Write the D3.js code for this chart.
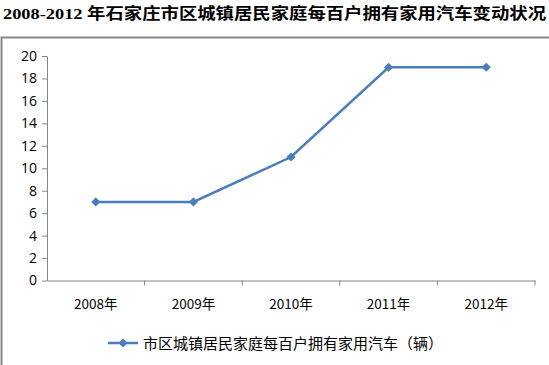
<!DOCTYPE html>
<html>
<head>
<meta charset="utf-8">
<script src="https://cdn.jsdelivr.net/npm/d3@7"></script>
<style>
  body { margin: 0; background: #fff; }
  svg { display: block; }
</style>
</head>
<body>
<div id="chart"></div>
<script>
const years = ['2008年', '2009年', '2010年', '2011年', '2012年'];
const cars = [7, 7, 11, 19, 19];
const yTicks = [0, 2, 4, 6, 8, 10, 12, 14, 16, 18, 20];
const seriesName = '市区城镇居民家庭每百户拥有家用汽车（辆）';
const titleText = '2008-2012 年石家庄市区城镇居民家庭每百户拥有家用汽车变动状况';

const width = 549, height = 365;
const lineColor = '#4a7ebb';
const cjk = '"Noto Sans CJK SC", "DejaVu Sans", sans-serif';

const svg = d3.select('#chart').append('svg')
  .attr('width', width)
  .attr('height', height);

// title
svg.append('text')
  .attr('x', 3)
  .attr('y', 19)
  .attr('font-family', '"Liberation Serif", "Noto Sans CJK SC", serif')
  .attr('font-weight', 'bold')
  .attr('font-size', 15.5)
  .attr('fill', '#000')
  .attr('textLength', 543)
  .attr('lengthAdjust', 'spacingAndGlyphs')
  .text(titleText);

// chart frame (left + top edges)
svg.append('path')
  .attr('d', `M1.5,${height}V37.5H${width}`)
  .attr('fill', 'none')
  .attr('stroke', '#888')
  .attr('stroke-width', 2);

const x = d3.scaleBand().domain(years).range([47, 535]);
const y = d3.scaleLinear().domain([0, 20]).range([280.5, 56]);

// y axis
const yAxis = svg.append('g')
  .attr('transform', 'translate(47,0)')
  .call(d3.axisLeft(y).tickValues(yTicks).tickSize(5).tickPadding(5).tickSizeOuter(0));
yAxis.select('.domain').attr('stroke', '#868686');
yAxis.selectAll('.tick line').attr('stroke', '#868686');
yAxis.selectAll('text')
  .attr('font-family', '"Open Sans", "DejaVu Sans", sans-serif')
  .attr('font-size', 14)
  .attr('fill', '#000');

// x axis
const xAxis = svg.append('g')
  .attr('transform', `translate(0,${y(0)})`)
  .call(d3.axisBottom(x).tickSize(0).tickPadding(19));
xAxis.select('.domain').attr('stroke', '#868686');
xAxis.selectAll('text')
  .attr('font-family', cjk)
  .attr('font-size', 13.5)
  .attr('fill', '#000');
// category boundary ticks
svg.append('g').selectAll('line')
  .data(years)
  .enter().append('line')
  .attr('x1', d => x(d) + x.bandwidth())
  .attr('x2', d => x(d) + x.bandwidth())
  .attr('y1', y(0))
  .attr('y2', y(0) + 5)
  .attr('stroke', '#868686');

// series line
const line = d3.line()
  .x((d, i) => x(years[i]) + x.bandwidth() / 2)
  .y(d => y(d));

svg.append('path')
  .datum(cars)
  .attr('d', line)
  .attr('fill', 'none')
  .attr('stroke', lineColor)
  .attr('stroke-width', 2.5);

const diamond = d3.symbol().type(d3.symbolSquare).size(42);
svg.selectAll('.pt')
  .data(cars)
  .enter().append('path')
  .attr('class', 'pt')
  .attr('d', diamond)
  .attr('transform', (d, i) => `translate(${x(years[i]) + x.bandwidth() / 2},${y(d)}) rotate(45)`)
  .attr('fill', lineColor);

// legend
const lg = svg.append('g').attr('transform', 'translate(108,343)');
lg.append('line')
  .attr('x1', 0).attr('x2', 30)
  .attr('stroke', lineColor)
  .attr('stroke-width', 2.5);
lg.append('path')
  .attr('d', diamond)
  .attr('transform', 'translate(15,0) rotate(45)')
  .attr('fill', lineColor);
lg.append('text')
  .attr('x', 35)
  .attr('y', 5.5)
  .attr('font-family', cjk)
  .attr('font-size', 15)
  .attr('fill', '#000')
  .text(seriesName);
</script>
</body>
</html>
